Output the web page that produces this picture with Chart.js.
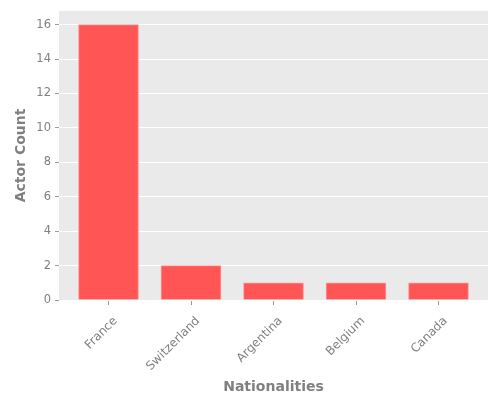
<!DOCTYPE html>
<html>
<head>
<meta charset="utf-8">
<script src="https://cdn.jsdelivr.net/npm/chart.js@4"></script>
<style>
  html, body { margin: 0; padding: 0; background: #fff; }
</style>
</head>
<body>
<canvas id="barChart" width="500" height="400"></canvas>
<script>
const nationalities = ['France', 'Switzerland', 'Argentina', 'Belgium', 'Canada'];
const actorCounts = [16, 2, 1, 1, 1];
const yTicks = [0, 2, 4, 6, 8, 10, 12, 14, 16];

// grey panel behind the plot area
const panelBg = {
  id: 'panelBg',
  beforeDraw(chart) {
    const a = chart.chartArea;
    chart.ctx.save();
    chart.ctx.fillStyle = '#EAEAEA';
    chart.ctx.fillRect(a.left, a.top, a.right - a.left, a.bottom - a.top);
    chart.ctx.restore();
  }
};

const points = actorCounts.map((v, i) => ({ x: i, y: v }));

new Chart(document.getElementById('barChart'), {
  type: 'bar',
  data: {
    datasets: [{
      label: 'Actor Count',
      data: points,
      backgroundColor: '#FF5555',
      borderColor: '#FF9999',
      borderWidth: 1,
      barThickness: 60
    }]
  },
  plugins: [panelBg],
  options: {
    responsive: false,
    animation: false,
    layout: { padding: { top: 10, right: 12, left: 9, bottom: 0 } },
    plugins: { legend: { display: false }, tooltip: { enabled: false } },
    scales: {
      x: {
        type: 'linear',
        min: -0.6,
        max: 4.6,
        offset: false,
        afterBuildTicks(scale) {
          scale.ticks = nationalities.map((n, i) => ({ value: i }));
        },
        afterFit(scale) { scale.height = 100; },
        ticks: {
          callback: (v) => nationalities[v],
          color: '#808080',
          font: { family: 'DejaVu Sans', size: 12 },
          minRotation: 45,
          maxRotation: 45,
          labelOffset: 7,
          padding: 9
        },
        grid: {
          display: true,
          offset: false,
          drawOnChartArea: false,
          drawTicks: true,
          color: '#999',
          tickColor: '#999',
          tickLength: 5,
          tickWidth: 1
        },
        border: { display: false },
        title: {
          display: true,
          text: 'Nationalities',
          color: '#808080',
          font: { family: 'DejaVu Sans', size: 14, weight: 'bold' },
          padding: { top: 6 }
        }
      },
      y: {
        min: 0,
        max: 16.8,
        afterBuildTicks(scale) {
          scale.ticks = yTicks.map(v => ({ value: v }));
        },
        afterFit(scale) { scale.width = 50; },
        ticks: {
          color: '#808080',
          font: { family: 'DejaVu Sans', size: 11.5 },
          padding: 4
        },
        grid: { color: '#FFFFFF', lineWidth: 1, tickColor: '#999', tickLength: 4 },
        border: { display: false },
        title: {
          display: true,
          text: 'Actor Count',
          color: '#808080',
          font: { family: 'DejaVu Sans', size: 14, weight: 'bold' },
          padding: { bottom: 6 }
        }
      }
    }
  }
});
</script>
</body>
</html>
